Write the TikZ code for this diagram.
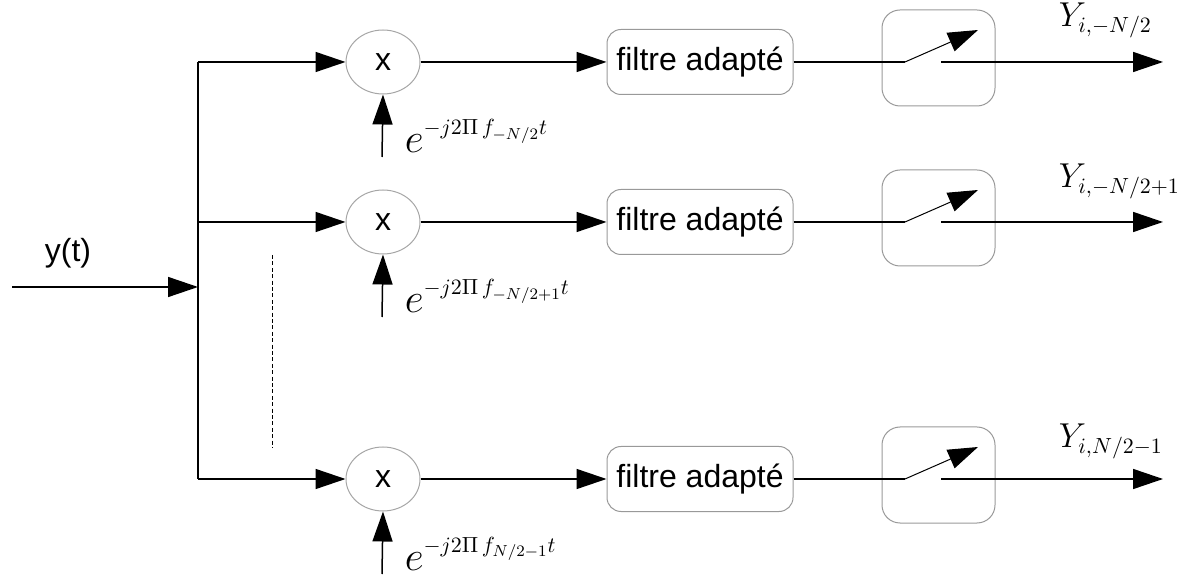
\documentclass[tikz,border=0pt]{standalone}
\usepackage{fontspec}
\setmainfont{Liberation Sans}
\usetikzlibrary{arrows.meta,shapes.geometric}
\newcommand{\expl}[1]{{\fontsize{22}{26}\selectfont$e$}\raisebox{9pt}{\fontsize{11}{13}\selectfont$#1$}}
\begin{document}
\begin{tikzpicture}[x=0.5pt,y=-0.5pt,
  line width=0.75pt,
  arr/.style={-{Triangle[length=15pt,width=10pt]}},
  mult/.style={ellipse,draw=gray!70,line width=0.5pt,minimum width=37pt,minimum height=32pt,inner sep=0pt,font=\fontsize{16}{19}\selectfont},
  filt/.style={rectangle,rounded corners=7pt,draw=gray!80,line width=0.5pt,minimum width=93pt,minimum height=32.5pt,inner sep=0pt,font=\fontsize{16}{19}\selectfont},
  swbox/.style={rectangle,rounded corners=9pt,draw=gray!80,line width=0.5pt,minimum width=56.5pt,minimum height=48pt,inner sep=0pt},
  lbl/.style={inner sep=0pt,anchor=base west},
  ylbl/.style={inner sep=0pt,anchor=base west,font=\fontsize{16}{19}\selectfont}]
\useasboundingbox (0,0) rectangle (1182,576);

% input
\coordinate (in) at (12,287);
\coordinate (bj) at (198,287);
\coordinate (btop) at (198,62);
\coordinate (bbot) at (198,479);
\node[inner sep=0pt,font=\fontsize{16}{19}\selectfont] (yt) at (68,253) {y(t)};
\draw[arr] (in) -- (bj);
\draw (btop) -- (bbot);
\coordinate (d1) at (272,255);
\coordinate (d2) at (272,448);
\draw[line width=0.5pt,dash pattern=on 2pt off 1.2pt] (d1) -- (d2);

% rows
\foreach \r/\y/\ex/\yl/\yb/\lb in {
  1/62/{-j2\Pi\, f_{-N/2}t}/{Y_{i,-N/2}}/27/153,
  2/222/{-j2\Pi\, f_{-N/2+1}t}/{Y_{i,-N/2+1}}/188/313,
  3/479/{-j2\Pi\, f_{N/2-1}t}/{Y_{i,N/2-1}}/448/570}{
  \coordinate (b\r) at (198,\y);
  \node[mult] (m\r) at (383,\y) {x};
  \node[filt] (f\r) at (700,\y) {filtre adapté};
  \node[swbox] (s\r) at (938.5,\y-4) {};
  \coordinate (p\r) at (905,\y);
  \coordinate (t\r) at (978,\y-32);
  \coordinate (o\r) at (941,\y);
  \coordinate (e\r) at (1163,\y);
  \coordinate (u\r) at (382,\y+95);
  \draw[arr] (b\r) -- (m\r);
  \draw[arr] (m\r) -- (f\r);
  \draw[arr] (u\r) -- (m\r.south);
  \draw (f\r) -- (p\r);
  \draw[line width=0.5pt,-{Triangle[length=15pt,width=10pt]}] (p\r) -- (t\r);
  \draw[arr] (o\r) -- (e\r);
  \node[lbl] (x\r) at (404,\lb) {\expl{\ex}};
  \node[ylbl] (y\r) at (1058,\yb) {$\yl$};
}
\end{tikzpicture}
\end{document}
